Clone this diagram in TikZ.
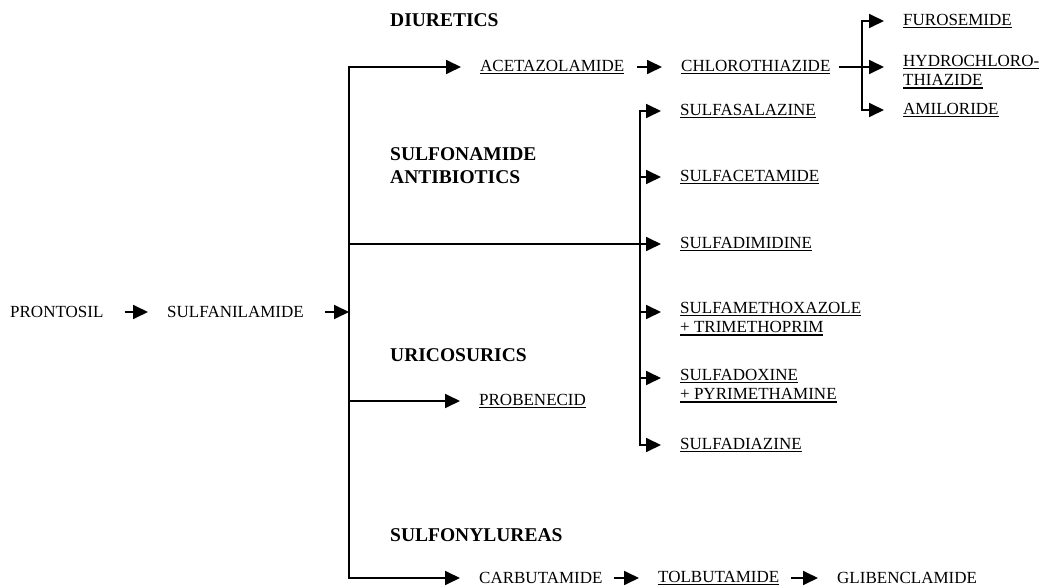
\documentclass[tikz,border=0pt]{standalone}
\usepackage{fontspec}
\setmainfont{Liberation Serif}
\usetikzlibrary{arrows.meta}
\newcommand\drugline[1]{\setbox0\hbox{#1}\rlap{\rule[-2.8pt]{\wd0}{1.5pt}}\box0}
\begin{document}
\begin{tikzpicture}[x=1pt,y=-1pt,
    drug/.style={anchor=west,inner sep=0pt,align=left,font=\fontsize{17}{19.5}\selectfont},
    group/.style={anchor=west,inner sep=0pt,align=left,font=\fontsize{19.5}{23}\selectfont\bfseries},
    trunk/.style={line width=1.8pt,line cap=rect},
    hop/.style={line width=1.8pt,-{Triangle[length=15pt,width=14pt]},shorten >=19pt}]
        \useasboundingbox (0,0) rectangle (1058,588);
        \node[drug] (prontosil) at (10,312) {PRONTOSIL};
        \node[drug] (sulfanil) at (167,312) {SULFANILAMIDE};
        \draw[hop,shorten <=21pt] (prontosil) -- (sulfanil);
        \coordinate (tTop) at (349,67);
        \coordinate (tIn) at (349,312);
        \coordinate (tSulfa) at (349,244);
        \coordinate (tProb) at (349,401);
        \coordinate (tBot) at (349,578);
        \draw[trunk] (tTop) -- (tBot);
        \draw[hop,shorten <=21pt,shorten >=0pt] (sulfanil) -- (tIn);
        \node[group] (diuretics) at (390,20) {DIURETICS};
        \node[group,anchor=north west] (antibiotics) at (390,147) {SULFONAMIDE\\ANTIBIOTICS};
        \node[group] (uricosurics) at (390,355) {URICOSURICS};
        \node[group] (sulfonylureas) at (390,535) {SULFONYLUREAS};
        \node[drug] (acetaz) at (480,67) {\drugline{ACETAZOLAMIDE}};
        \node[drug] (chlorothiaz) at (681,67) {\drugline{CHLOROTHIAZIDE}};
        \draw[hop] (tTop) -- (acetaz);
        \draw[hop,shorten <=13pt] (acetaz) -- (chlorothiaz);
        \coordinate (cTop) at (862,21);
        \coordinate (cBot) at (862,110);
        \node[drug] (furo) at (903,21) {\drugline{FUROSEMIDE}};
        \node[drug,anchor=north west] (hydro) at (903,55) {\drugline{HYDROCHLORO-}\\\drugline{THIAZIDE}};
        \node[drug] (amil) at (903,110) {\drugline{AMILORIDE}};
        \draw[trunk] (cTop) -- (cBot);
        \draw[hop] (cTop) -- (furo);
        \draw[hop,shorten <=8pt] (chlorothiaz) -- (chlorothiaz -| hydro.west);
        \draw[hop] (cBot) -- (amil);
        \coordinate (sTop) at (640,111);
        \coordinate (sAcet) at (640,177);
        \coordinate (sMeth) at (640,312);
        \coordinate (sDox) at (640,378);
        \coordinate (sBot) at (640,445);
        \draw[trunk] (sTop) -- (sBot);
        \node[drug] (sasal) at (680,111) {\drugline{SULFASALAZINE}};
        \node[drug] (sacet) at (680,177) {\drugline{SULFACETAMIDE}};
        \node[drug] (sdimid) at (680,244) {\drugline{SULFADIMIDINE}};
        \node[drug,anchor=north west] (smeth) at (680,302) {\drugline{SULFAMETHOXAZOLE}\\\drugline{+ TRIMETHOPRIM}};
        \node[drug,anchor=north west] (sdox) at (680,369) {\drugline{SULFADOXINE}\\\drugline{+ PYRIMETHAMINE}};
        \node[drug] (sdiaz) at (680,445) {\drugline{SULFADIAZINE}};
        \draw[hop] (sTop) -- (sasal);
        \draw[hop] (sAcet) -- (sacet);
        \draw[hop] (tSulfa) -- (sdimid);
        \draw[hop] (sMeth) -- (sMeth -| smeth.west);
        \draw[hop] (sDox) -- (sDox -| sdox.west);
        \draw[hop] (sBot) -- (sdiaz);
        \node[drug] (prob) at (479,401) {\drugline{PROBENECID}};
        \draw[hop] (tProb) -- (prob);
        \node[drug] (carb) at (479,578) {CARBUTAMIDE};
        \node[drug] (tolb) at (658,578) {\drugline{TOLBUTAMIDE}};
        \node[drug] (glib) at (837,578) {GLIBENCLAMIDE};
        \draw[hop] (tBot) -- (carb);
        \draw[hop,shorten <=11pt] (carb) -- (tolb);
        \draw[hop,shorten <=12pt] (tolb) -- (glib);
      \end{tikzpicture}
\end{document}
